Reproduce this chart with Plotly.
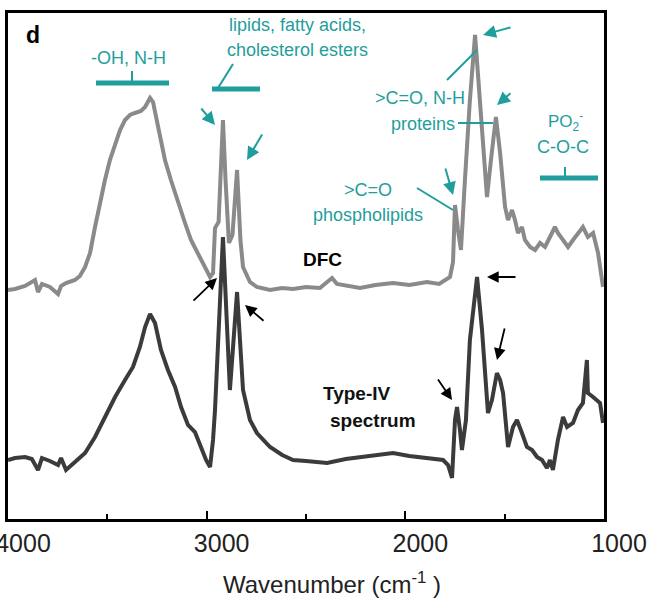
import plotly.graph_objects as go

# ---------------- data ----------------
wavenumber_dfc = [4000, 3965, 3914, 3864, 3849, 3829, 3789, 3748, 3733, 3708, 3663, 3638, 3612,
                  3587, 3562, 3537, 3512, 3487, 3461, 3436, 3411, 3386, 3361, 3331, 3310, 3285,
                  3270, 3255, 3235, 3210, 3180, 3144, 3109, 3079, 3044, 3008, 2983, 2968, 2958,
                  2940, 2918, 2905, 2888, 2870, 2847, 2830, 2817, 2782, 2747, 2681, 2620, 2565,
                  2500, 2430, 2369, 2344, 2290, 2228, 2150, 2062, 1980, 1891, 1830, 1775, 1760,
                  1750, 1735, 1720, 1700, 1675, 1649, 1619, 1589, 1569, 1544, 1523, 1498, 1483,
                  1463, 1448, 1433, 1413, 1398, 1372, 1347, 1322, 1297, 1272, 1247, 1232, 1206,
                  1181, 1156, 1131, 1106, 1081, 1055, 1030, 1005]
absorbance_dfc = [2.29, 2.30, 2.33, 2.39, 2.27, 2.35, 2.32, 2.25, 2.33, 2.36, 2.39, 2.43, 2.52,
                  2.66, 2.92, 3.16, 3.39, 3.59, 3.76, 3.89, 3.99, 4.04, 4.06, 4.08, 4.12, 4.21,
                  4.17, 4.02, 3.82, 3.59, 3.39, 3.16, 2.96, 2.79, 2.66, 2.52, 2.42, 2.46, 2.91,
                  2.97, 3.99, 3.39, 2.76, 2.84, 3.49, 2.79, 2.52, 2.37, 2.32, 2.29, 2.31, 2.30,
                  2.32, 2.31, 2.41, 2.35, 2.33, 2.31, 2.34, 2.36, 2.34, 2.37, 2.35, 2.42, 2.57,
                  3.14, 2.89, 2.69, 3.39, 4.19, 4.84, 3.99, 3.22, 3.59, 4.02, 3.66, 3.12, 2.99,
                  3.09, 2.99, 2.86, 2.92, 2.79, 2.72, 2.69, 2.76, 2.72, 2.82, 2.92, 2.86, 2.79,
                  2.72, 2.79, 2.86, 2.92, 2.82, 2.86, 2.66, 2.32]

wavenumber_type4 = [4000, 3965, 3914, 3880, 3849, 3829, 3789, 3748, 3733, 3708, 3663, 3638, 3612,
                    3562, 3512, 3461, 3411, 3371, 3336, 3310, 3285, 3260, 3230, 3195, 3159, 3129,
                    3094, 3059, 3029, 3003, 2983, 2968, 2958, 2918, 2883, 2847, 2817, 2782, 2747,
                    2681, 2620, 2565, 2500, 2394, 2300, 2228, 2150, 2062, 1980, 1891, 1810, 1785,
                    1765, 1750, 1740, 1725, 1715, 1695, 1675, 1639, 1614, 1584, 1564, 1539, 1523,
                    1508, 1483, 1458, 1438, 1413, 1388, 1362, 1337, 1312, 1287, 1272, 1257, 1232,
                    1206, 1186, 1156, 1131, 1106, 1086, 1081, 1055, 1020, 1005]
absorbance_type4 = [0.59, 0.61, 0.62, 0.60, 0.49, 0.61, 0.58, 0.54, 0.61, 0.49, 0.57, 0.61, 0.66,
                    0.82, 1.02, 1.22, 1.39, 1.52, 1.72, 1.92, 2.05, 1.96, 1.69, 1.49, 1.32, 1.12,
                    0.94, 0.87, 0.72, 0.59, 0.52, 0.79, 1.09, 2.82, 1.29, 2.27, 1.29, 0.99, 0.86,
                    0.72, 0.64, 0.59, 0.58, 0.56, 0.60, 0.62, 0.64, 0.66, 0.63, 0.61, 0.59, 0.54,
                    0.41, 0.99, 1.12, 0.89, 0.69, 0.99, 1.79, 2.42, 1.89, 1.06, 1.19, 1.46, 1.39,
                    1.26, 0.72, 0.92, 0.99, 0.86, 0.72, 0.69, 0.62, 0.59, 0.51, 0.59, 0.49, 0.79,
                    1.02, 0.92, 0.96, 1.09, 1.16, 1.59, 1.26, 1.22, 1.16, 0.96]

x_tick_values = [4000, 3000, 2000, 1000]
x_tick_labels = ["4000", "3000", "2000", "1000"]
x_minor_values = [3500, 2500, 1500]

# ---------------- layout helpers ----------------
W, H = 648, 607
L, R, T, B = 8, 44, 13, 88
X0, X1 = 4000, 1000
Y0, Y1 = 0, 5.06
TEAL = "#1f9e9c"
FONT = "Liberation Sans, Arial, sans-serif"


def px_x(px):
    return X0 + (px - L) * (X1 - X0) / (W - L - R)


def px_y(py):
    return Y0 + (H - B - py) * (Y1 - Y0) / (H - T - B)


fig = go.Figure()
fig.add_trace(go.Scatter(x=wavenumber_dfc, y=absorbance_dfc, mode="lines", name="DFC",
                         line=dict(color="#8a8a8a", width=4), showlegend=False))
fig.add_trace(go.Scatter(x=wavenumber_type4, y=absorbance_type4, mode="lines", name="Type-IV",
                         line=dict(color="#3b3b3b", width=4), showlegend=False))

ann = []


def text(px, py, s, size=18, color=TEAL, bold=False):
    ann.append(dict(x=px_x(px), y=px_y(py), xref="x", yref="y",
                    text=("<b>%s</b>" % s) if bold else s, showarrow=False,
                    font=dict(family=FONT, size=size, color=color),
                    xanchor="center", yanchor="middle"))


def arrow(hx, hy, tx, ty, color=TEAL, width=2, size=1.3):
    ann.append(dict(x=px_x(hx), y=px_y(hy), xref="x", yref="y", text="",
                    showarrow=True, ax=tx - hx, ay=ty - hy, arrowhead=2,
                    arrowsize=size, arrowwidth=width, arrowcolor=color, standoff=0))


text(33, 35, "d", size=23, color="black", bold=True)
text(128, 58, "-OH, N-H")
text(297, 25, "lipids, fatty acids,")
text(297, 50, "cholesterol esters")
text(420, 98, "&gt;C=O, N-H")
text(423, 124, "proteins")
text(368, 190, "&gt;C=O")
text(368, 215, "phospholipids")
text(565, 121, "PO<sub>2</sub><sup>-</sup>", size=17)
text(563, 147, "C-O-C")
text(322, 259, "DFC", size=19, color="black", bold=True)
text(357, 393, "Type-IV", size=19, color="#111", bold=True)
text(373, 420, "spectrum", size=19, color="#111", bold=True)

# x-axis title, placed in paper coordinates below the plot
ann.append(dict(x=(332 - L) / (W - L - R), y=(H - B - 583) / (H - T - B),
                xref="paper", yref="paper", showarrow=False,
                text="Wavenumber (cm<sup>-1</sup> )",
                font=dict(family=FONT, size=24, color="#222"),
                xanchor="center", yanchor="middle"))

# teal arrows
arrow(215, 125, 200, 107)
arrow(247, 160, 263, 133)
arrow(483, 35, 512, 27)
arrow(497, 105, 512, 92)
arrow(453, 195, 445, 167)
# black arrows
arrow(217, 278, 192, 302, color="black", width=1.8)
arrow(245, 305, 265, 322, color="black", width=1.8)
arrow(487, 277, 517, 277, color="black", width=1.8)
arrow(497, 360, 505, 327, color="black", width=1.8)
arrow(452, 400, 437, 378, color="black", width=1.8)

shapes = []


def seg(x0, y0, x1, y1, width=2, color=TEAL):
    shapes.append(dict(type="line", xref="x", yref="y", x0=px_x(x0), y0=px_y(y0),
                       x1=px_x(x1), y1=px_y(y1), line=dict(color=color, width=width)))


seg(96, 83, 169, 83, width=5)
seg(132, 83, 132, 71)
seg(212, 89, 260, 89, width=5)
seg(218, 88, 233, 64)
seg(540, 178, 598, 178, width=5)
seg(565, 178, 565, 167)
seg(447, 80, 477, 50)
seg(458, 123, 493, 123)
seg(417, 188, 453, 210)

fig.update_layout(
    width=W, height=H,
    margin=dict(l=L, r=R, t=T, b=B, autoexpand=False),
    paper_bgcolor="white", plot_bgcolor="white",
    annotations=ann, shapes=shapes,
    xaxis=dict(range=[X0, X1], tickvals=x_tick_values, ticktext=x_tick_labels,
               ticks="inside", ticklen=8, tickwidth=2, tickcolor="black",
               showline=True, linewidth=3, linecolor="black", mirror=True,
               showgrid=False, zeroline=False, ticklabelshift=-15,
               ticklabeloverflow="allow",
               tickfont=dict(family=FONT, size=25, color="#222"),
               minor=dict(tickvals=x_minor_values, ticks="inside", ticklen=5, tickwidth=2,
                          tickcolor="black", showgrid=False)),
    yaxis=dict(range=[Y0, Y1], showticklabels=False, ticks="", showline=True, linewidth=3,
               linecolor="black", mirror=True, showgrid=False, zeroline=False),
)

fig.write_html("out.html", config={"displayModeBar": False},
               post_script="document.body.style.margin='0';")
